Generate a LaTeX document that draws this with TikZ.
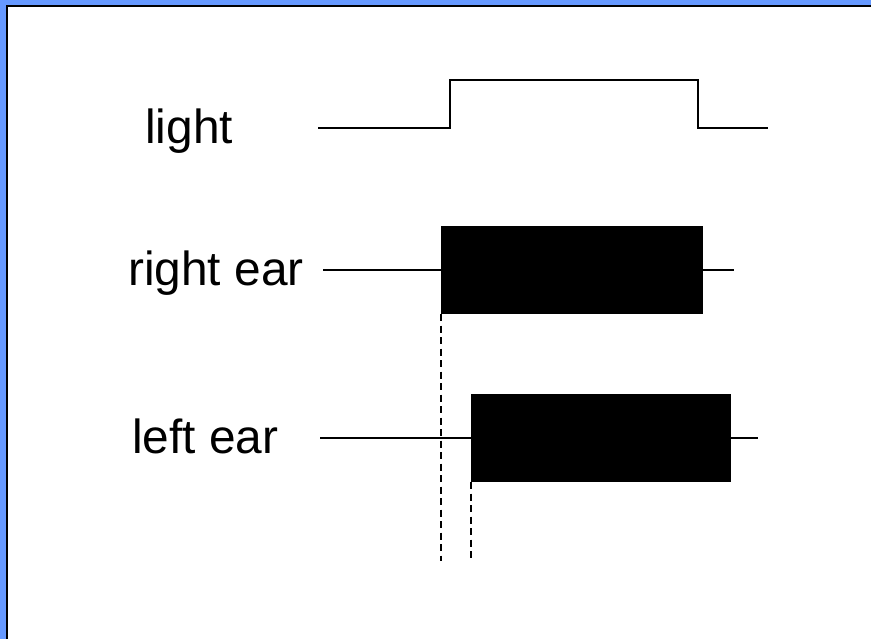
\documentclass[tikz,border=0pt]{standalone}
\usepackage{fontspec}
\setmainfont{Liberation Sans}
\usetikzlibrary{positioning,calc}
\definecolor{frameBlue}{HTML}{6699FF}

\begin{document}
\begin{tikzpicture}[x=0.01cm,y=-0.01cm,line width=0.7pt,
    font=\fontsize{13.6}{16}\selectfont,
    lbl/.style={anchor=base west,inner sep=0pt},
    onset/.style={dashed,dash pattern=on 0.07cm off 0.045cm}]
  \useasboundingbox (0,0) rectangle (871,639);
  % frame
  \fill[frameBlue] (0,0) rectangle (871,639);
  \fill[white] (7,6) rectangle (871,639);
  \draw (7,639) -- (7,6) -- (871,6);

  % light
  \node[lbl] (light) at (144,143) {light};
  \coordinate (lon) at (450,128);
  \coordinate (loff) at (698,128);
  \draw (318,128) -- (lon) -- (450,80) -- (698,80) -- (loff) -- (768,128);

  % ears
  \foreach \n/\y/\lx/\t/\a/\b/\c/\e in {%
      right/270/127/{right ear}/323/441/703/734,
      left/438/131/{left ear}/320/471/731/758}{%
    \node[lbl] (\n lbl) at (\lx,\y+15) {\t};
    \coordinate (\n sw) at (\b,\y+44);
    \coordinate (\n ne) at (\c,\y-44);
    \fill (\n sw) rectangle (\n ne);
    \draw (\a,\y) -- (\b,\y);
    \draw (\c,\y) -- (\e,\y);
    \coordinate (\n mark) at (\b,561);
    \draw[onset] (\n sw) -- (\n mark);
  }
\end{tikzpicture}
\end{document}
